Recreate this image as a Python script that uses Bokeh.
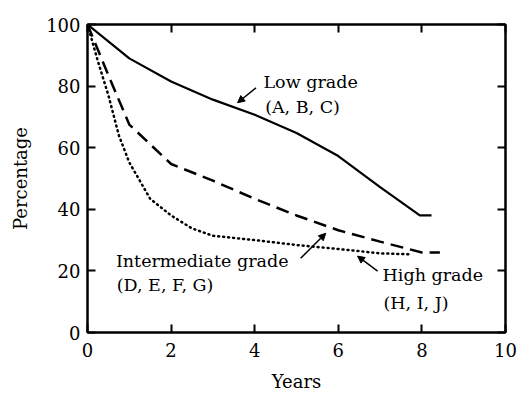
from bokeh.plotting import figure
from bokeh.models import LinearAxis, FixedTicker, Range1d, Arrow, NormalHead, Label
from bokeh.embed import file_html
from bokeh.resources import INLINE

# ---- data ----
low_x = [0, 1, 2, 3, 4, 5, 6, 7, 7.95, 8.23]
low_y = [100, 89.0, 81.5, 75.6, 70.7, 64.8, 57.3, 47.2, 38.0, 38.0]

int_x = [0, 0.5, 1, 2, 3, 4, 5, 6, 7, 8, 8.43]
int_y = [100, 83.5, 67.5, 54.7, 49.3, 43.4, 38.0, 33.2, 29.5, 26.0, 26.0]

high_x = [0, 0.25, 0.5, 0.75, 1, 1.5, 2, 2.5, 3, 4, 5, 6, 7, 7.69]
high_y = [100, 88, 77, 64, 55.2, 43.4, 38.0, 33.8, 31.4, 30.0, 28.4, 27.1, 25.7, 25.4]

x_ticks = [0, 2, 4, 6, 8, 10]
y_ticks = [0, 20, 40, 60, 80, 100]

FONT = "DejaVu Serif"

p = figure(width=517, height=394, output_backend="svg", toolbar_location=None,
           x_range=Range1d(0, 10), y_range=Range1d(0, 100),
           min_border_left=87, min_border_right=12, min_border_top=24, min_border_bottom=61,
           x_axis_label="Years", y_axis_label="Percentage")
p.grid.visible = False
p.outline_line_color = "black"
p.outline_line_width = 2
p.background_fill_color = "white"
p.border_fill_color = "white"

for ax, ticks in ((p.xaxis[0], x_ticks), (p.yaxis[0], y_ticks)):
    ax.ticker = FixedTicker(ticks=ticks)
    ax.major_tick_in = 8
    ax.major_tick_out = 0
    ax.minor_tick_line_color = None
    ax.axis_line_width = 2
    ax.major_tick_line_width = 2
    ax.major_label_text_font = FONT
    ax.major_label_text_font_size = "18px"
    ax.major_label_text_color = "black"
    ax.axis_label_text_font = FONT
    ax.axis_label_text_font_size = "18px"
    ax.axis_label_text_font_style = "normal"
    ax.axis_label_text_color = "black"

p.xaxis[0].major_label_standoff = 10
p.xaxis[0].axis_label_standoff = 11
p.yaxis[0].major_label_standoff = 7
p.yaxis[0].axis_label_standoff = 12

for loc, ticks in (("above", x_ticks), ("right", y_ticks)):
    ax = LinearAxis(ticker=FixedTicker(ticks=ticks))
    ax.major_tick_in = 8
    ax.major_tick_out = 0
    ax.minor_tick_line_color = None
    ax.axis_line_width = 2
    ax.major_tick_line_width = 2
    ax.major_label_text_font_size = "0px"
    ax.major_label_text_color = None
    ax.major_label_standoff = 0
    p.add_layout(ax, loc)

p.line(low_x, low_y, line_color="black", line_width=2.2)
p.line(int_x, int_y, line_color="black", line_width=2.5, line_dash="13 7")
p.line(high_x, high_y, line_color="black", line_width=2.5, line_dash="1 4", line_cap="round")

def lab(x, y, t):
    p.add_layout(Label(x=x, y=y, text=t, text_font=FONT, text_font_size="17.5px",
                       text_color="black", text_baseline="middle", text_align="left"))

lab(4.21, 81.3, "Low grade")
lab(4.25, 73.3, "(A, B, C)")
lab(0.68, 23.2, "Intermediate grade")
lab(0.70, 15.4, "(D, E, F, G)")
lab(7.06, 18.6, "High grade")
lab(7.08, 9.6, "(H, I, J)")

def arr(x0, y0, x1, y1):
    p.add_layout(Arrow(x_start=x0, y_start=y0, x_end=x1, y_end=y1, line_width=1.5,
                       line_color="black",
                       end=NormalHead(size=7, fill_color="black", line_color="black")))

arr(4.03, 79.4, 3.59, 74.6)
arr(5.10, 24.1, 5.70, 32.2)
arr(6.94, 19.9, 6.46, 24.8)

open("out.html", "w").write(file_html(p, INLINE))
